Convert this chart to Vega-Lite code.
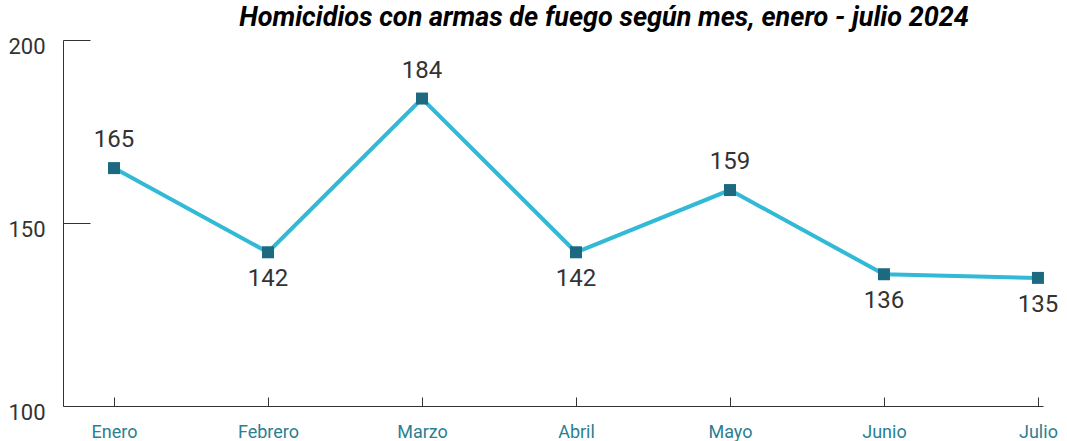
{
  "$schema": "https://vega.github.io/schema/vega-lite/v6.json",
  "width": 980,
  "height": 366,
  "autosize": {"type": "none"},
  "padding": {"left": 63, "top": 40, "right": 24, "bottom": 35},
  "background": "white",
  "config": {"view": {"stroke": null}, "font": "Roboto"},
  "title": {
    "text": "Homicidios con armas de fuego según mes, enero - julio 2024",
    "font": "Roboto",
    "fontSize": 27,
    "fontWeight": "bold",
    "fontStyle": "italic",
    "color": "#000000",
    "anchor": "middle",
    "dx": 51,
    "offset": 3
  },
  "data": {
    "values": [
      {"mes": "Enero", "orden": 1, "homicidios": 165},
      {"mes": "Febrero", "orden": 2, "homicidios": 142},
      {"mes": "Marzo", "orden": 3, "homicidios": 184},
      {"mes": "Abril", "orden": 4, "homicidios": 142},
      {"mes": "Mayo", "orden": 5, "homicidios": 159},
      {"mes": "Junio", "orden": 6, "homicidios": 136},
      {"mes": "Julio", "orden": 7, "homicidios": 135}
    ]
  },
  "transform": [
    {"window": [{"op": "lag", "field": "homicidios", "as": "prev"}], "sort": [{"field": "orden"}]}
  ],
  "encoding": {
    "x": {
      "field": "mes",
      "type": "ordinal",
      "sort": {"field": "orden"},
      "scale": {"type": "point", "padding": 0.182, "align": 0.91},
      "axis": {
        "title": null,
        "labelAngle": 0,
        "labelFont": "Roboto",
        "labelFontSize": 18,
        "labelColor": "#2a7f91",
        "labelPadding": 26,
        "domainColor": "#333333",
        "tickColor": "#333333",
        "tickSize": -9,
        "grid": false
      }
    },
    "y": {
      "field": "homicidios",
      "type": "quantitative",
      "scale": {"domain": [100, 200], "nice": false, "zero": false},
      "axis": {
        "title": null,
        "values": [100, 150, 200],
        "labelFont": "Roboto",
        "labelFontSize": 22,
        "labelColor": "#333333",
        "labelPadding": 45,
        "labelOffset": 6,
        "domainColor": "#333333",
        "tickColor": "#333333",
        "tickSize": -27,
        "grid": false
      }
    }
  },
  "layer": [
    {"mark": {"type": "line", "color": "#31b9d6", "strokeWidth": 4}},
    {"mark": {"type": "point", "shape": "square", "filled": true, "color": "#1d6a80", "size": 144, "opacity": 1}},
    {
      "transform": [{"filter": "datum.prev == null || datum.homicidios > datum.prev"}],
      "mark": {"type": "text", "font": "Roboto", "fontSize": 24, "color": "#333333", "dy": -28},
      "encoding": {"text": {"field": "homicidios", "type": "quantitative"}}
    },
    {
      "transform": [{"filter": "!(datum.prev == null || datum.homicidios > datum.prev)"}],
      "mark": {"type": "text", "font": "Roboto", "fontSize": 24, "color": "#333333", "dy": 27},
      "encoding": {"text": {"field": "homicidios", "type": "quantitative"}}
    }
  ]
}
